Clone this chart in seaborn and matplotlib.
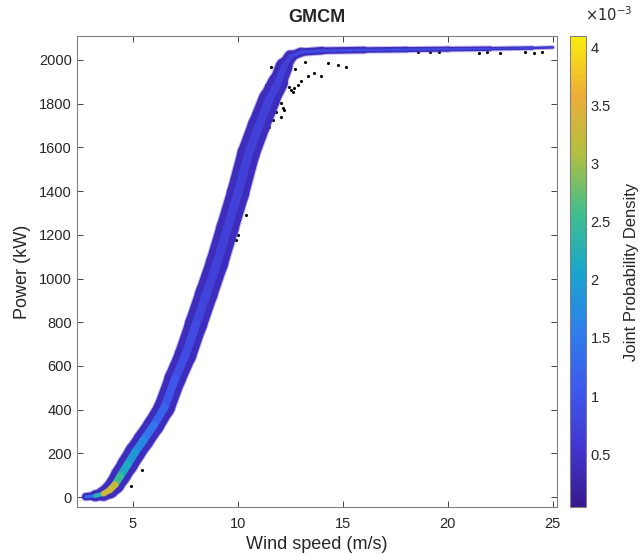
import numpy as np
import pandas as pd
import seaborn as sns
import matplotlib.pyplot as plt
import matplotlib as mpl
from matplotlib.colors import LinearSegmentedColormap, Normalize

# centre of the power-curve band
wind_speed = [2.75, 3.2, 3.6, 3.9, 4.15, 4.4, 4.75, 5.1, 5.5, 6.0, 6.5, 7.0, 7.5, 8.0,
              8.5, 9.0, 9.5, 10.0, 10.5, 11.0, 11.5, 11.9, 12.2, 12.5, 13.0, 14.0,
              16.0, 18.0, 20.0, 22.0, 24.0, 25.0]
power_kw = [2, 6, 16, 33, 58, 97, 150, 205, 260, 330, 410, 540, 650, 790,
            930, 1070, 1230, 1390, 1570, 1700, 1820, 1895, 1970, 2015, 2035, 2042,
            2045, 2047, 2049, 2051, 2054, 2057]
# peak joint density along the band (x 1e-3)
peak_density = [0.9, 1.6, 2.8, 3.8, 2.7, 2.3, 2.0, 1.8, 1.5, 1.3, 1.1, 0.95, 0.85, 0.8,
                0.75, 0.7, 0.7, 0.7, 0.7, 0.7, 0.7, 0.7, 0.7, 0.75, 0.85, 0.9,
                0.9, 0.85, 0.85, 0.8, 0.75, 0.6]
# visual thickness of the band in pixels (style)
band_px = [6, 9, 13, 16, 18, 19, 20, 20, 20, 20, 20, 21, 21, 22,
           22, 22, 22, 22, 22, 22, 21, 19, 15, 10, 8, 7,
           6, 5, 5, 4, 3, 2]

# scattered outlier points (black dots)
out_wind = [11.57, 11.73, 11.41, 11.33, 11.25, 12.29, 12.45, 12.53, 12.61, 12.68, 12.85,
            13.0, 13.33, 13.64, 13.96, 14.28, 14.76, 15.16, 12.05, 12.13, 12.21, 12.05,
            11.65, 11.89, 11.97, 11.49, 11.33, 10.37, 9.98, 9.9, 5.43, 6.07,
            18.59, 19.13, 19.6, 21.47, 21.86, 22.48, 23.68, 24.11, 24.5,
            12.4, 12.7, 12.2, 11.8, 13.2, 10.9, 8.9, 7.6, 4.9, 11.1, 12.0]
out_power = [1969, 1939, 1878, 1855, 1832, 1893, 1878, 1863, 1855, 1870, 1886,
             1901, 1924, 1939, 1924, 1985, 1977, 1969, 1802, 1779, 1771, 1740,
             1725, 1817, 1848, 1695, 1886, 1291, 1199, 1176, 124, 421,
             2034, 2034, 2034, 2032, 2034, 2033, 2034, 2033, 2036,
             1950, 1960, 1915, 1760, 1990, 1590, 1000, 620, 50, 1650, 1850]

cbar_ticks = [0.5, 1, 1.5, 2, 2.5, 3, 3.5, 4]

parula = LinearSegmentedColormap.from_list("parula", [
    (0.21, 0.10, 0.55), (0.26, 0.21, 0.82), (0.24, 0.35, 0.93),
    (0.18, 0.50, 0.92), (0.10, 0.65, 0.80), (0.25, 0.75, 0.55),
    (0.70, 0.75, 0.25), (0.93, 0.68, 0.22), (0.98, 0.93, 0.05)])
norm = Normalize(0.045, 4.1)

sns.set_style("ticks")
plt.rcParams['font.family'] = ['Liberation Sans', 'DejaVu Sans']

# one row pair per segment of the band
rows = []
for i in range(len(wind_speed) - 1):
    w = round((band_px[i] + band_px[i + 1]) / 2 * 0.72, 2)
    d = (peak_density[i] + peak_density[i + 1]) / 2
    for j in (i, i + 1):
        rows.append({'seg': i, 'x': wind_speed[j], 'y': power_kw[j], 'dens': d,
                     'edge': round(w + 1.5, 2), 'outer': w, 'core': round(w * 0.4, 2)})
seg = pd.DataFrame(rows)

fig = plt.figure(figsize=(6.41, 5.55), dpi=100)
ax = fig.add_axes([0.120, 0.0865, 0.749, 0.849])
cax = fig.add_axes([0.889, 0.0865, 0.025, 0.849])

common = dict(data=seg, x='x', y='y', units='seg', estimator=None, sort=False,
              legend=False, solid_capstyle='round', ax=ax)
sns.lineplot(size='edge', sizes={v: v for v in seg['edge'].unique()},
             color='#6a5cd0', alpha=0.4, **common)
sns.lineplot(size='outer', sizes={v: v for v in seg['outer'].unique()},
             color=parula(norm(0.4)), **common)
sns.lineplot(size='core', sizes={v: v for v in seg['core'].unique()},
             hue='dens', palette=parula, hue_norm=norm, **common)
sns.scatterplot(x=out_wind, y=out_power, color='black', s=5, linewidth=0, ax=ax)

ax.set_xlim(2.33, 25.2)
ax.set_ylim(-45, 2110)
ax.set_xticks([5, 10, 15, 20, 25])
ax.set_yticks(range(0, 2001, 200))
ax.set_xlabel('Wind speed (m/s)', fontsize=13, color='#262626', labelpad=4)
ax.set_ylabel('Power (kW)', fontsize=13, color='#262626', labelpad=6)
ax.set_title('GMCM', fontsize=13, fontweight='bold', pad=10)
ax.tick_params(direction='in', top=True, right=True, length=4, labelsize=10.5,
               colors='#262626', width=0.6)
ax.tick_params(axis='x', pad=7)
for s in ax.spines.values():
    s.set_color('#808080')
    s.set_linewidth(0.8)

cb = fig.colorbar(mpl.cm.ScalarMappable(norm=norm, cmap=parula), cax=cax)
cb.set_ticks(cbar_ticks)
cb.set_ticklabels(['0.5', '1', '1.5', '2', '2.5', '3', '3.5', '4'])
cb.ax.tick_params(direction='in', length=3, labelsize=10.5, colors='#262626', width=0.6)
cb.outline.set_edgecolor('#808080')
cb.outline.set_linewidth(0.8)
fig.text(0.912, 0.962, r'$\times10^{-3}$', fontsize=10.5, color='#262626')
fig.text(0.997, 0.51, 'Joint Probability Density', rotation=90, ha='right', va='center',
         fontsize=12, color='#262626')

fig.savefig('out.png', dpi=100)
